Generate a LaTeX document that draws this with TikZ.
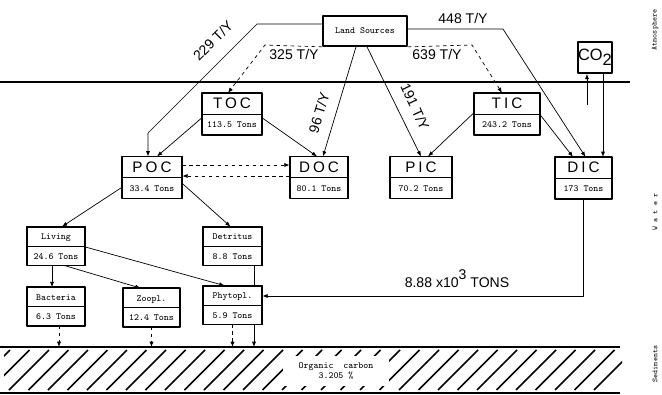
\documentclass[tikz,border=0pt]{standalone}
\usepackage{fontspec}
\setsansfont{Liberation Sans}
\newfontfamily\titlefont[LetterSpace=20]{Liberation Sans}
\usetikzlibrary{arrows.meta,shapes.multipart,calc,backgrounds}
\newcommand{\tstrut}{\rule[-0.14cm]{0pt}{0.6cm}}
\newcommand{\vstrut}{\rule[-0.2cm]{0pt}{0.6cm}}
\newcommand{\lstrut}{\rule[-0.17cm]{0pt}{0.55cm}}
\newcommand{\ptitle}[1]{\tstrut{\titlefont\fontsize{13}{14}\selectfont #1}}
\tikzset{
  every picture/.style={line join=round, >={Latex[length=4.5pt,width=3.5pt]}},
  pool/.style={rectangle split, rectangle split parts=2, draw, line width=0.6pt, fill=white, inner xsep=2pt, inner ysep=0pt, font=\ttfamily\fontsize{8}{9}\selectfont},
  frame/.style={line width=1.5pt},
  flow/.style={->, line width=0.6pt},
  dflow/.style={flow, dashed},
  rate/.style={font=\sffamily\fontsize{12}{13}\selectfont, inner sep=1pt},
  side/.style={rotate=90, font=\ttfamily\fontsize{6.5}{7}\selectfont},
  hatch/.style={line width=1.3pt},
}
\begin{document}
\begin{tikzpicture}[x=0.03cm, y=-0.03cm]
\useasboundingbox (0,0) rectangle (662,395);
\draw[line width=1.6pt] (0,82) -- (630,82);
\node[draw, frame, minimum width=2.52cm, minimum height=0.9cm, inner sep=0pt, font=\ttfamily\fontsize{8}{9}\selectfont] (land) at (365,31) {Land Sources};
\node[draw, frame, minimum width=1.02cm, minimum height=0.93cm, inner sep=0pt, font=\sffamily\fontsize{14}{14}\selectfont] (co2) at (595,57.5) {CO\raisebox{-0.3em}{2}};
\node[pool, minimum width=1.8cm] (toc) at (232,114) {\ptitle{TOC}\nodepart{two}\vstrut 113.5 Tons};
\node[pool, minimum width=1.8cm] (poc) at (152,177.5) {\ptitle{POC}\nodepart{two}\vstrut 33.4 Tons};
\node[pool, minimum width=1.74cm] (doc) at (319,177.5) {\ptitle{DOC}\nodepart{two}\vstrut 80.1 Tons};
\node[pool, minimum width=1.86cm] (pic) at (421,177.5) {\ptitle{PIC}\nodepart{two}\vstrut 70.2 Tons};
\node[pool, minimum width=1.98cm] (tic) at (507,114) {\ptitle{TIC}\nodepart{two}\vstrut 243.2 Tons};
\node[pool, minimum width=1.71cm] (dic) at (583.5,178) {\ptitle{DIC}\nodepart{two}\vstrut 173 Tons};
\node[pool, minimum width=1.74cm] (living) at (56,246) {\lstrut Living\nodepart{two}\lstrut 24.6 Tons};
\node[pool, minimum width=1.77cm] (detritus) at (232.5,246) {\lstrut Detritus\nodepart{two}\lstrut 8.8 Tons};
\node[pool, minimum width=1.74cm] (bacteria) at (56,306.5) {\lstrut Bacteria\nodepart{two}\lstrut 6.3 Tons};
\node[pool, minimum width=1.71cm] (zoopl) at (151.5,307.5) {\lstrut Zoopl.\nodepart{two}\lstrut 12.4 Tons};
\node[pool, minimum width=1.77cm] (phytopl) at (232.5,305) {\lstrut Phytopl.\nodepart{two}\lstrut 5.9 Tons};
\foreach \n in {toc,poc,doc,pic,tic,dic,living,detritus,bacteria,zoopl,phytopl}
  \draw[frame] (\n.north west) rectangle (\n.south east);
\coordinate (sedtop) at (0,347);
\coordinate (co2in) at ($(co2.south)+(8,0)$);
\coordinate (evap) at (587,105);
\coordinate (bdrop) at ($(bacteria.south)+(3,0)$);
\coordinate (ddrop) at ($(detritus.south)+(21.5,0)$);
\draw[flow] ($(land.west)+(0,-7)$) -- (257,24) -- (148,133) -- ($(poc.north)+(-4,0)$);
\draw[dflow] (land.south west) -- (265,45) -- ($(toc.north)+(-4,0)$);
\draw[flow] ($(land.south)+(-9,0)$) -- ($(doc.north)+(4,0)$);
\draw[flow] ($(land.south)+(2,0)$) -- (pic.north);
\draw[dflow] (land.south east) -- (472,45) -- ($(tic.north)+(-5,0)$);
\draw[flow] ($(land.east)+(0,-2)$) -- (503,29) -- ($(dic.north)+(2,0)$);
\draw[flow] (co2in) -- (co2in |- dic.north);
\draw[flow] (evap) -- (evap |- co2.south);
\draw[flow] ($(toc.west)+(0,4)$) -- ($(poc.north)+(5,0)$);
\draw[flow] ($(toc.east)+(0,4)$) -- ($(doc.north)+(-2,0)$);
\draw[dflow] ($(poc.east)+(0,-12.5)$) -- ($(doc.west)+(0,-12.5)$);
\draw[dflow] ($(doc.west)+(0,-1.5)$) -- ($(poc.east)+(0,-1.5)$);
\draw[flow] ($(tic.west)+(0,-1)$) -- ($(pic.north)+(7,0)$);
\draw[flow] ($(tic.east)+(0,1)$) -- ($(dic.north)+(-10.5,0)$);
\draw[flow] ($(poc.west)+(0,10)$) -- ($(living.north)+(6,0)$);
\draw[flow] ($(poc.east)+(0,6)$) -- ($(detritus.north)+(-2,0)$);
\draw[flow] ($(living.south)+(-4,0)$) -- ($(bacteria.north)+(-4,0)$);
\draw[flow] ($(living.south)+(8,0)$) -- ($(zoopl.north)+(-11,0)$);
\draw[flow] ($(living.east)+(0,1)$) -- ($(phytopl.north)+(-8,0)$);
\draw[flow] (dic.south) |- ($(phytopl.east)+(0,-9)$);
\draw[dflow] (bdrop) -- (bdrop |- sedtop);
\draw[dflow] (zoopl.south) -- (zoopl.south |- sedtop);
\draw[dflow] (phytopl.south) -- (phytopl.south |- sedtop);
\begin{scope}[on background layer]
\draw[flow] (ddrop) -- (ddrop |- sedtop);
\end{scope}
\node[rate, rotate=45] (r229) at (213,41) {229 T/Y};
\node[rate] (r325) at (294,54) {325 T/Y};
\node[rate, rotate=73] (r96) at (319,113) {96 T/Y};
\node[rate, rotate=-65] (r191) at (415,107) {191 T/Y};
\node[rate] (r639) at (437,54) {639 T/Y};
\node[rate] (r448) at (463,18) {448 T/Y};
\node[rate] (r888) at (457,279) {8.88 x10\raisebox{0.55em}{3} TONS};
\draw[line width=1.6pt] (0,347) -- (620,347) (0,393) -- (620,393);
\begin{scope}
\clip (4,349) rectangle (622,391);
\foreach \x in {-30,-10.5,...,600} \draw[hatch] (\x,390) -- (\x+40,350);
\end{scope}
\node[fill=white, align=center, minimum width=3.2cm, minimum height=0.9cm, inner sep=0pt, font=\ttfamily\fontsize{8}{9}\selectfont] (orgc) at (336,371) {Organic~~carbon\\3.205 \%};
\node[side] (atmlbl) at (655,30) {Atmosphere};
\node[side] (watlbl) at (655,212) {W a t e r};
\node[side] (sedlbl) at (655,364) {Sediments};
\end{tikzpicture}
\end{document}
